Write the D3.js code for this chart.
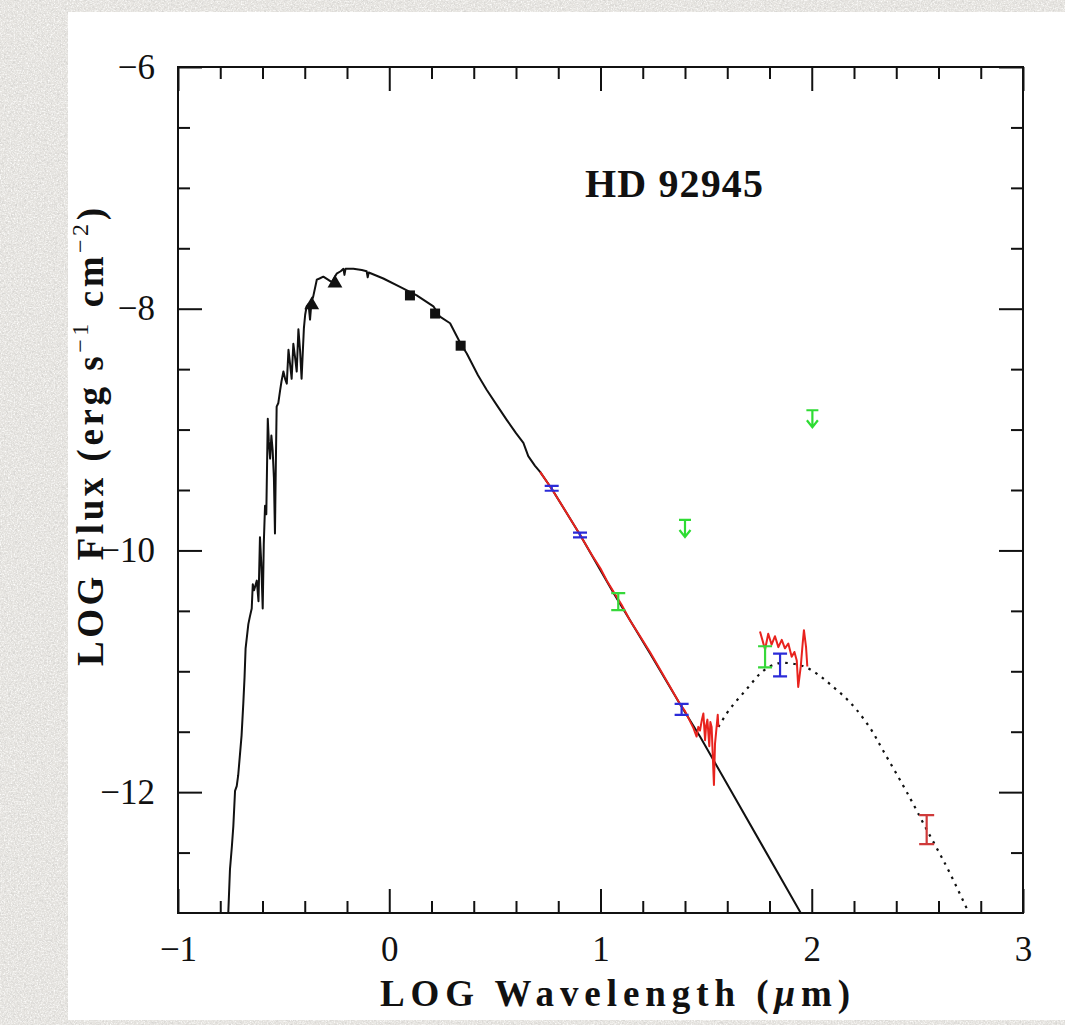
<!DOCTYPE html>
<html>
<head>
<meta charset="utf-8">
<script src="https://cdn.jsdelivr.net/npm/d3@7"></script>
<style>
  html, body { margin: 0; padding: 0; background: #e7e5e1; }
  svg { display: block; }
</style>
</head>
<body>
<div id="chart"></div>
<script>
// ---- data (log wavelength [um], log flux [erg s-1 cm-2]) ----
const photosphere = [
  [-0.762,-13.0],[-0.754,-12.64],[-0.745,-12.45],[-0.738,-12.28],[-0.730,-11.99],[-0.722,-11.95],
  [-0.715,-11.86],[-0.699,-11.53],[-0.691,-11.27],[-0.685,-11.05],[-0.680,-10.81],[-0.667,-10.61],
  [-0.660,-10.55],[-0.651,-10.48],[-0.646,-10.28],[-0.640,-10.33],[-0.627,-10.25],[-0.619,-10.42],
  [-0.612,-9.89],[-0.606,-10.10],[-0.599,-10.48],[-0.594,-9.95],[-0.588,-9.63],[-0.582,-9.70],
  [-0.575,-8.91],[-0.570,-9.10],[-0.564,-9.24],[-0.558,-9.05],[-0.552,-9.17],[-0.546,-9.40],
  [-0.541,-9.86],[-0.537,-9.30],[-0.533,-8.81],[-0.525,-8.78],[-0.517,-8.68],[-0.510,-8.60],
  [-0.501,-8.52],[-0.493,-8.58],[-0.485,-8.62],[-0.477,-8.34],[-0.470,-8.45],[-0.462,-8.58],
  [-0.454,-8.29],[-0.446,-8.40],[-0.438,-8.52],[-0.430,-8.17],[-0.422,-8.35],[-0.415,-8.58],
  [-0.404,-8.16],[-0.398,-8.05],[-0.391,-7.98],[-0.382,-7.96],[-0.375,-8.09],[-0.368,-7.94],
  [-0.360,-7.90],[-0.343,-7.76],[-0.330,-7.75],[-0.312,-7.735],[-0.290,-7.76],[-0.272,-7.78],
  [-0.249,-7.71],[-0.230,-7.69],[-0.217,-7.67],[-0.212,-7.72],[-0.207,-7.67],[-0.170,-7.67],
  [-0.130,-7.68],[-0.107,-7.69],[-0.102,-7.74],[-0.097,-7.70],[-0.028,-7.75],[0.051,-7.82],
  [0.130,-7.89],[0.209,-7.98],[0.240,-8.066],[0.288,-8.12],[0.338,-8.29],[0.367,-8.37],
  [0.420,-8.55],[0.461,-8.67],[0.510,-8.80],[0.556,-8.92],[0.600,-9.03],[0.635,-9.11],
  [0.658,-9.22],[0.690,-9.30],[0.714,-9.35],[0.769,-9.49],[0.903,-9.87],[1.061,-10.35],
  [1.234,-10.85],[1.376,-11.27],[1.471,-11.54],[1.948,-13.0]
];

// IRS spectrum (red)
const irsSpectrum = [
  [0.714,-9.35],[0.769,-9.49],[0.840,-9.69],[0.903,-9.87],[0.960,-10.04],[1.000,-10.15],
  [1.030,-10.25],[1.061,-10.34],[1.100,-10.45],[1.140,-10.58],[1.180,-10.69],[1.234,-10.84],
  [1.280,-10.98],[1.330,-11.13],[1.376,-11.27],[1.400,-11.33],[1.420,-11.40],[1.440,-11.47],
  [1.455,-11.54],[1.463,-11.46],[1.471,-11.49],[1.480,-11.40],[1.487,-11.35],[1.495,-11.57],
  [1.500,-11.45],[1.506,-11.40],[1.515,-11.62],[1.520,-11.42],[1.526,-11.46],[1.537,-11.94],
  [1.542,-11.60],[1.547,-11.51],[1.555,-11.36],[1.558,-11.46]
];

// MIPS SED-mode spectrum (red)
const mipsSpectrum = [
  [1.755,-10.67],[1.779,-10.82],[1.794,-10.69],[1.810,-10.78],[1.826,-10.71],[1.842,-10.80],
  [1.858,-10.74],[1.873,-10.81],[1.889,-10.77],[1.905,-10.88],[1.918,-10.84],[1.929,-10.91],
  [1.936,-11.13],[1.948,-10.96],[1.957,-10.77],[1.963,-10.66],[1.973,-10.80],[1.979,-10.96]
];

// dust model (dotted)
const dustModel = [
  [1.558,-11.46],[1.597,-11.35],[1.636,-11.26],[1.676,-11.18],[1.715,-11.10],[1.755,-11.02],
  [1.802,-10.96],[1.840,-10.935],[1.866,-10.93],[1.920,-10.94],[1.976,-10.97],[2.040,-11.04],
  [2.102,-11.13],[2.160,-11.22],[2.213,-11.32],[2.280,-11.48],[2.339,-11.66],[2.434,-11.95],
  [2.490,-12.13],[2.544,-12.31],[2.600,-12.49],[2.654,-12.67],[2.741,-12.99]
];

// photometry: [logλ, logF, err]
const blueBars  = [[0.769,-9.486,0.02],[0.903,-9.872,0.02],[1.384,-11.315,0.045],[1.850,-10.948,0.094]];
const greenBars = [[1.084,-10.424,0.07],[1.779,-10.88,0.087]];
const redBars   = [[2.544,-12.31,0.12]];
const greenLimits = [[1.400,-9.748],[2.003,-8.84]];
const triangles = [[-0.367,-7.97],[-0.257,-7.79]];
const squares   = [[0.098,-7.89],[0.217,-8.04],[0.338,-8.306]];

const xMajor = [-1, 0, 1, 2, 3];
const xMinor = d3.range(-5, 16).filter(i => i % 5 !== 0).map(i => i / 5);
const yMajor = [-6, -8, -10, -12];
const yMinor = d3.range(-25, -12).filter(i => i % 4 !== 0).map(i => i / 2);

// ---- layout ----
const W = 1065, H = 1025;
const x = d3.scaleLinear().domain([-1, 3]).range([178, 1023]);
const y = d3.scaleLinear().domain([-13, -6]).range([913, 67]);

const svg = d3.select('#chart').append('svg')
  .attr('width', W)
  .attr('height', H);

const defs = svg.append('defs');
// granite-like page texture
const grain = defs.append('filter').attr('id', 'grain')
  .attr('x', 0).attr('y', 0).attr('width', '100%').attr('height', '100%');
grain.append('feTurbulence')
  .attr('type', 'fractalNoise')
  .attr('baseFrequency', 0.45)
  .attr('numOctaves', 3)
  .attr('seed', 7);
grain.append('feColorMatrix')
  .attr('type', 'matrix')
  .attr('values', '0 0 0 0 0.66  0 0 0 0 0.65  0 0 0 0 0.63  2.4 0 0 0 -1.05');
const grain2 = defs.append('filter').attr('id', 'grain2')
  .attr('x', 0).attr('y', 0).attr('width', '100%').attr('height', '100%');
grain2.append('feTurbulence')
  .attr('type', 'fractalNoise')
  .attr('baseFrequency', 0.7)
  .attr('numOctaves', 2)
  .attr('seed', 21);
grain2.append('feColorMatrix')
  .attr('type', 'matrix')
  .attr('values', '0 0 0 0 1  0 0 0 0 1  0 0 0 0 0.99  0 2.4 0 0 -1.1');

defs.append('clipPath').attr('id', 'plotclip')
  .append('rect')
  .attr('x', 178).attr('y', 67).attr('width', 845).attr('height', 846);

// textured grey page + white panel
svg.append('rect').attr('width', W).attr('height', H).attr('fill', '#e6e4e0');
svg.append('rect').attr('width', W).attr('height', H).attr('filter', 'url(#grain)');
svg.append('rect').attr('width', W).attr('height', H).attr('filter', 'url(#grain2)');
svg.append('rect')
  .attr('x', 68).attr('y', 12)
  .attr('width', W - 68).attr('height', 1008)
  .attr('fill', '#fff');

const plot = svg.append('g').attr('clip-path', 'url(#plotclip)');

const line = d3.line().x(d => x(d[0])).y(d => y(d[1]));
const smooth = d3.line().x(d => x(d[0])).y(d => y(d[1])).curve(d3.curveCatmullRom);

plot.append('path')
  .datum(photosphere)
  .attr('d', line)
  .attr('fill', 'none')
  .attr('stroke', '#111')
  .attr('stroke-width', 2)
  .attr('stroke-linejoin', 'round');

plot.append('path')
  .datum(dustModel)
  .attr('d', smooth)
  .attr('fill', 'none')
  .attr('stroke', '#111')
  .attr('stroke-width', 2.2)
  .attr('stroke-dasharray', '2.5,5.5');

[irsSpectrum, mipsSpectrum].forEach(s => {
  plot.append('path')
    .datum(s)
    .attr('d', line)
    .attr('fill', 'none')
    .attr('stroke', '#e8231e')
    .attr('stroke-width', 2)
    .attr('stroke-linejoin', 'round');
});

// error bars
function errorBars(data, color, cap) {
  const g = plot.append('g').attr('stroke', color).attr('stroke-width', 2.2).attr('fill', 'none');
  data.forEach(d => {
    const cx = x(d[0]), y0 = y(d[1] - d[2]), y1 = y(d[1] + d[2]);
    g.append('path').attr('d', `M${cx},${y0}V${y1}M${cx - cap},${y0}H${cx + cap}M${cx - cap},${y1}H${cx + cap}`);
  });
}
errorBars(blueBars, '#2b2bd8', 7);
errorBars(greenBars, '#36d83a', 7);
errorBars(redBars, '#cf3a3a', 7.5);

// upper limits
const lim = plot.append('g').attr('stroke', '#2edc33').attr('stroke-width', 2.2).attr('fill', 'none');
greenLimits.forEach(d => {
  const cx = x(d[0]), cy = y(d[1]);
  lim.append('path').attr('d',
    `M${cx - 6},${cy}H${cx + 6}M${cx},${cy}V${cy + 17}M${cx - 5.5},${cy + 10}L${cx},${cy + 17}L${cx + 5.5},${cy + 10}`);
});

// photometric points
plot.append('g').selectAll('path.tri')
  .data(triangles).join('path')
  .attr('transform', d => `translate(${x(d[0])},${y(d[1])})`)
  .attr('d', d3.symbol(d3.symbolTriangle, 95))
  .attr('fill', '#111');

plot.append('g').selectAll('rect')
  .data(squares).join('rect')
  .attr('x', d => x(d[0]) - 5)
  .attr('y', d => y(d[1]) - 5)
  .attr('width', 10).attr('height', 10)
  .attr('fill', '#111');

// ---- axes (ticks point inward on all four sides) ----
function axis(fn, scale, vals, size, labels, transform) {
  const g = svg.append('g')
    .attr('transform', transform)
    .call(fn(scale).tickValues(vals).tickSize(size).tickPadding(23)
      .tickFormat(labels ? d3.format('d') : ''));
  g.select('.domain').remove();
  g.selectAll('line').attr('stroke', '#111').attr('stroke-width', 2);
  g.selectAll('text')
    .attr('font-family', 'Liberation Serif, serif')
    .attr('font-size', 35)
    .attr('fill', '#111');
  return g;
}
axis(d3.axisBottom, x, xMajor, -24, true, 'translate(0,913)');
axis(d3.axisBottom, x, xMinor, -12, false, 'translate(0,913)');
axis(d3.axisTop, x, xMajor, -24, false, 'translate(0,67)');
axis(d3.axisTop, x, xMinor, -12, false, 'translate(0,67)');
axis(d3.axisLeft, y, yMajor, -24, true, 'translate(178,0)');
axis(d3.axisLeft, y, yMinor, -12, false, 'translate(178,0)');
axis(d3.axisRight, y, yMajor, -24, false, 'translate(1023,0)');
axis(d3.axisRight, y, yMinor, -12, false, 'translate(1023,0)');

svg.append('rect')
  .attr('x', 178).attr('y', 67).attr('width', 845).attr('height', 846)
  .attr('fill', 'none').attr('stroke', '#111').attr('stroke-width', 2);

// ---- titles ----
svg.append('text')
  .attr('x', 674).attr('y', 197)
  .attr('text-anchor', 'middle')
  .attr('font-family', 'Liberation Serif, serif')
  .attr('font-weight', 'bold')
  .attr('font-size', 40)
  .attr('textLength', 178).attr('lengthAdjust', 'spacing')
  .attr('fill', '#111')
  .text('HD 92945');

const xt = svg.append('text')
  .attr('x', 615).attr('y', 1006)
  .attr('text-anchor', 'middle')
  .attr('font-family', 'Liberation Serif, serif')
  .attr('font-weight', 'bold')
  .attr('font-size', 37)
  .attr('textLength', 470).attr('lengthAdjust', 'spacing')
  .attr('fill', '#111');
xt.append('tspan').text('LOG Wavelength (');
xt.append('tspan').attr('font-style', 'italic').text('μ');
xt.append('tspan').text('m)');

const yt = svg.append('text')
  .attr('transform', 'translate(103,437) rotate(-90)')
  .attr('text-anchor', 'middle')
  .attr('font-family', 'Liberation Serif, serif')
  .attr('font-weight', 'bold')
  .attr('font-size', 37)
  .attr('textLength', 458).attr('lengthAdjust', 'spacing')
  .attr('fill', '#111');
yt.append('tspan').text('LOG Flux (erg s');
yt.append('tspan').attr('dy', -15).attr('font-size', 24).attr('font-weight', 'normal').text('−1');
yt.append('tspan').attr('dy', 15).text(' cm');
yt.append('tspan').attr('dy', -15).attr('font-size', 24).attr('font-weight', 'normal').text('−2');
yt.append('tspan').attr('dy', 15).text(')');
</script>
</body>
</html>
